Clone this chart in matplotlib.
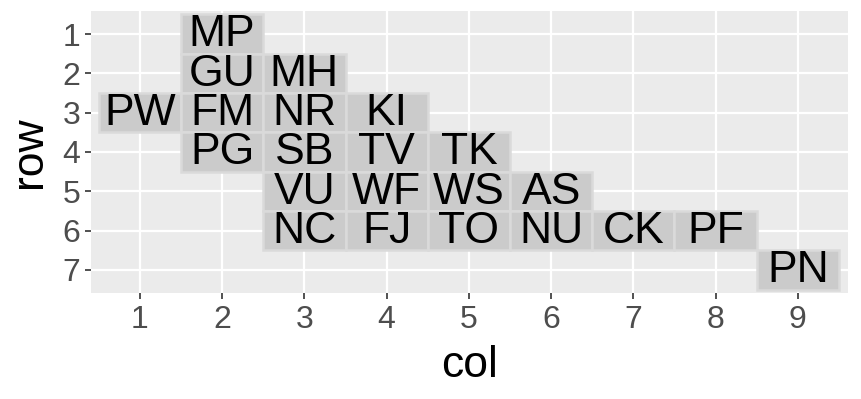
import matplotlib
matplotlib.use("Agg")
import matplotlib.pyplot as plt
from matplotlib.patches import Rectangle

plt.rcParams['font.family'] = ['Liberation Sans', 'DejaVu Sans']

codes = ['MP', 'GU', 'MH', 'PW', 'FM', 'NR', 'KI', 'PG', 'SB', 'TV', 'TK',
         'VU', 'WF', 'WS', 'AS', 'NC', 'FJ', 'TO', 'NU', 'CK', 'PF', 'PN']
rows = [1, 2, 2, 3, 3, 3, 3, 4, 4, 4, 4, 5, 5, 5, 5, 6, 6, 6, 6, 6, 6, 7]
cols = [2, 2, 3, 1, 2, 3, 4, 2, 3, 4, 5, 3, 4, 5, 6, 3, 4, 5, 6, 7, 8, 9]
xticks = [1, 2, 3, 4, 5, 6, 7, 8, 9]
yticks = [1, 2, 3, 4, 5, 6, 7]

fig = plt.figure(figsize=(8.61, 3.99), dpi=100)
ax = fig.add_axes([91 / 861, 1 - 293 / 399, (848 - 91) / 861, (293 - 11) / 399])
ax.set_facecolor('#ebebeb')

for c, r, code in zip(cols, rows, codes):
    ax.add_patch(Rectangle((c - 0.5, r - 0.5), 1, 1, facecolor='#cbcbcb',
                           edgecolor='#dadada', lw=1.8, zorder=2))
    ax.text(c, r + 0.02, code, ha='center', va='center', fontsize=32, color='black', zorder=3)

ax.set_xlim(0.405, 9.61)
ax.set_ylim(7.585, 0.415)
ax.set_xticks(xticks)
ax.set_yticks(yticks)
ax.grid(True, color='white', lw=1.6, zorder=1)
ax.set_axisbelow(True)
for s in ax.spines.values():
    s.set_visible(False)
ax.tick_params(colors='#333333', labelcolor='#4d4d4d', labelsize=23, length=4, width=1.2)
ax.tick_params(axis='x', pad=5)
ax.set_xlabel('col', fontsize=32, labelpad=7)
ax.set_ylabel('row', fontsize=32, labelpad=9)

fig.savefig('out.png', dpi=100)
